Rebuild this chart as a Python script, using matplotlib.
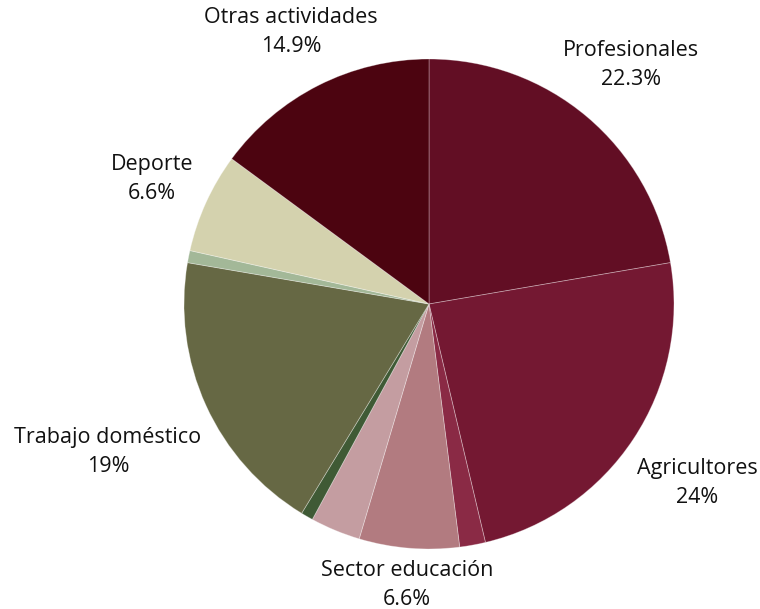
import matplotlib
matplotlib.use("Agg")
import matplotlib.pyplot as plt

plt.rcParams['font.family'] = ['Open Sans', 'DejaVu Sans']

# shares in percent, clockwise from 12 o'clock
categories = ["Profesionales", "Agricultores", "Otros 1", "Sector educación",
              "Otros 2", "Otros 3", "Trabajo doméstico", "Otros 4",
              "Deporte", "Otras actividades"]
values = [22.3, 24.0, 1.7, 6.6, 3.3, 0.8, 19.0, 0.8, 6.6, 14.9]
shown = [True, True, False, True, False, False, True, False, True, True]
value_text = ["22.3%", "24%", "", "6.6%", "", "", "19%", "", "6.6%", "14.9%"]

colors = ["#620E24", "#741832", "#8A2A45", "#B27B80", "#C49DA1",
          "#3F5A35", "#666844", "#A3B898", "#D4D2AE", "#4C0410"]

# label centres in pixels (x from left, y from top)
label_px = {
    "Profesionales": (631, 65),
    "Agricultores": (697, 483),
    "Sector educación": (407, 585),
    "Trabajo doméstico": (108, 452),
    "Deporte": (152, 179),
    "Otras actividades": (291, 32),
}

W, H = 760, 609
cx, cy, R = 429, 304, 245

fig = plt.figure(figsize=(W / 100, H / 100), dpi=100)
ax = fig.add_axes([0, 0, 1, 1])
ax.pie(values, colors=colors, startangle=90, counterclock=False, radius=1,
       wedgeprops=dict(linewidth=0.6, edgecolor=(1, 1, 1, 0.35)))
ax.set_xlim(-cx / R, (W - cx) / R)
ax.set_ylim(-(H - cy) / R, cy / R)
ax.set_aspect('equal')
ax.axis('off')

for name, show, vt in zip(categories, shown, value_text):
    if not show:
        continue
    px, py = label_px[name]
    ax.text((px - cx) / R, (cy - py) / R, name + "\n" + vt,
            ha='center', va='center', fontsize=15.5, color='#111111',
            linespacing=1.45)

fig.savefig("out.png", dpi=100)
